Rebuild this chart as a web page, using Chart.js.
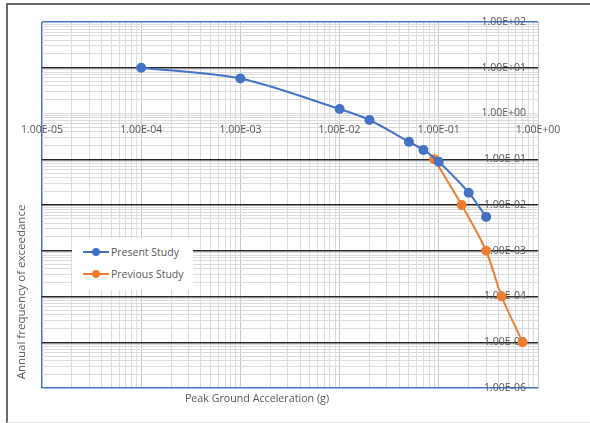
<!DOCTYPE html>
<html>
<head>
<meta charset="utf-8">
<script src="https://cdn.jsdelivr.net/npm/chart.js@4"></script>
<style>
    body { margin: 0; background: #fff; }
    #wrap { position: relative; width: 590px; height: 423px; overflow: hidden; font-family: "Open Sans", sans-serif; color: #595959; }
    #hazardChart { position: absolute; left: 0; top: 0; }
    #frame { position: absolute; left: 6px; top: 3px; width: 600px; height: 417px; border-top: 2px solid #6b6b6b; border-left: 2px solid #6b6b6b; border-bottom: 1px solid #e8e8e8; pointer-events: none; }
    #legend { position: absolute; left: 72px; top: 238px; width: 121px; height: 52px; background: #fff; }
    .row { position: absolute; left: 0; height: 16px; width: 121px; font-size: 10.5px; line-height: 16px; }
    .row .ln { position: absolute; left: 11px; top: 7px; width: 26px; height: 2px; }
    .row .dot { position: absolute; left: 20px; top: 4px; width: 8px; height: 8px; border-radius: 50%; }
    .row .txt { position: absolute; left: 39px; top: 0; white-space: nowrap; }
    #xTitle { position: absolute; left: 157px; width: 200px; top: 391px; text-align: center; font-size: 10.7px; }
    #yTitle { position: absolute; left: 21px; top: 292px; width: 220px; margin-left: -110px; margin-top: -9px; text-align: center; font-size: 11.5px; line-height: 18px; transform: rotate(-90deg); white-space: nowrap; }
</style>
</head>
<body>
<div id="wrap">
    <canvas id="hazardChart" width="590" height="423"></canvas>
    <div id="frame"></div>
    <div id="legend"></div>
    <div id="xTitle">Peak Ground Acceleration (g)</div>
    <div id="yTitle">Annual frequency of exceedance</div>
</div>
<script>
// Present Study hazard curve
const presentPga = [0.0001, 0.001, 0.01, 0.02, 0.05, 0.07, 0.1, 0.2, 0.3];
const presentFreq = [10, 5.8, 1.25, 0.72, 0.24, 0.16, 0.088, 0.0186, 0.0055];

// Previous Study hazard curve
const previousPga = [0.09, 0.17, 0.3, 0.43, 0.7];
const previousFreq = [0.1, 0.01, 0.001, 0.0001, 0.00001];

// axis decades and their labels
const xDecades = [1e-5, 1e-4, 1e-3, 1e-2, 1e-1, 1];
const xTickLabels = ["1.00E-05", "1.00E-04", "1.00E-03", "1.00E-02", "1.00E-01", "1.00E+00"];
const yDecades = [1e-6, 1e-5, 1e-4, 1e-3, 1e-2, 1e-1, 1, 10, 100];
const yTickLabels = ["1.00E-06", "1.00E-05", "1.00E-04", "1.00E-03", "1.00E-02", "1.00E-01", "1.00E+00", "1.00E+01", "1.00E+02"];

const blue = "#4472c4";
const orange = "#ed7d31";
const textColor = "#595959";

// major + minor (2..9) ticks for a log axis
function logTicks(decades) {
    const ticks = [];
    decades.forEach((d, i) => {
        ticks.push({ value: d });
        if (i < decades.length - 1) {
            for (let m = 2; m <= 9; m++) ticks.push({ value: m * d });
        }
    });
    return ticks;
}

const toPoints = (xs, ys) => xs.map((x, i) => ({ x: x, y: ys[i] }));

const datasets = [
    {
        label: "Present Study",
        data: toPoints(presentPga, presentFreq),
        borderColor: blue,
        backgroundColor: blue,
        borderWidth: 2,
        pointRadius: 4,
        pointHoverRadius: 4,
        showLine: true,
        tension: 0.3,
    },
    {
        label: "Previous Study",
        data: toPoints(previousPga, previousFreq),
        borderColor: orange,
        backgroundColor: orange,
        borderWidth: 2,
        pointRadius: 4,
        pointHoverRadius: 4,
        showLine: true,
        tension: 0.3,
    },
];

new Chart(document.getElementById("hazardChart").getContext("2d"), {
    type: "scatter",
    data: { datasets: datasets },
    options: {
        responsive: false,
        animation: false,
        layout: { padding: { left: 42, top: 22, right: 52, bottom: 35 } },
        plugins: { legend: { display: false }, tooltip: { enabled: false } },
        scales: {
            x: {
                type: "logarithmic",
                min: 1e-5,
                max: 1,
                position: { y: 1 },
                afterBuildTicks: (scale) => { scale.ticks = logTicks(xDecades); },
                border: { display: true, color: "#d9d9d9", width: 1 },
                grid: {
                    drawTicks: false,
                    color: (ctx) => {
                        const v = ctx.tick && ctx.tick.value;
                        if (v === xDecades[0]) return blue;
                        return xDecades.includes(v) ? "#c8c8c8" : "#dcdcdc";
                    },
                    lineWidth: (ctx) => (ctx.tick && ctx.tick.value === xDecades[0] ? 1.5 : 1),
                },
                ticks: {
                    autoSkip: false,
                    maxRotation: 0,
                    padding: 10,
                    color: textColor,
                    font: { family: "Open Sans", size: 10.5 },
                    callback: (value) => {
                        const i = xDecades.indexOf(value);
                        return i >= 0 ? xTickLabels[i] : "";
                    },
                },
            },
            y: {
                type: "logarithmic",
                min: 1e-6,
                max: 100,
                position: "right",
                z: -1, // horizontal grid under the vertical one
                afterBuildTicks: (scale) => { scale.ticks = logTicks(yDecades); },
                afterFit: (scale) => { scale.width = 0; },
                border: { display: false },
                grid: {
                    drawTicks: false,
                    color: (ctx) => {
                        const v = ctx.tick && ctx.tick.value;
                        if (v === yDecades[0] || v === yDecades[yDecades.length - 1]) return blue;
                        if (v === 1) return "#d0d0d0";
                        return yDecades.includes(v) ? "#262626" : "#dcdcdc";
                    },
                    lineWidth: (ctx) => {
                        const v = ctx.tick && ctx.tick.value;
                        if (v === 1) return 1;
                        return yDecades.includes(v) ? 1.5 : 1;
                    },
                },
                ticks: {
                    autoSkip: false,
                    mirror: true,
                    padding: -12,
                    color: textColor,
                    font: { family: "Open Sans", size: 10.5 },
                    callback: (value) => {
                        const i = yDecades.indexOf(value);
                        return i >= 0 ? yTickLabels[i] : "";
                    },
                },
            },
        },
    },
});

// legend box inside the plot
const legend = document.getElementById("legend");
datasets.forEach((ds, i) => {
    const row = document.createElement("div");
    row.className = "row";
    row.style.top = (6 + i * 22) + "px";
    row.innerHTML =
        '<span class="ln" style="background:' + ds.borderColor + '"></span>' +
        '<span class="dot" style="background:' + ds.borderColor + '"></span>' +
        '<span class="txt">' + ds.label + "</span>";
    legend.appendChild(row);
});
</script>
</body>
</html>
